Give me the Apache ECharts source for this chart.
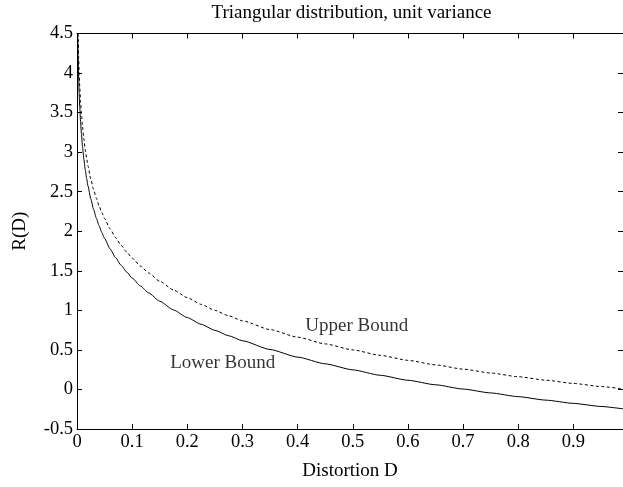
<!DOCTYPE html>
<html>
<head>
<meta charset="utf-8">
<script src="https://cdn.jsdelivr.net/npm/echarts@6/dist/echarts.min.js"></script>
<style>html,body{margin:0;padding:0;background:#fff;}#c{width:623px;height:487px;}</style>
</head>
<body>
<div id="c"></div>
<script>
// Distortion values (x)
const distortion = [0.001,0.0015,0.002,0.003,0.004,0.005,0.0065,0.008,0.01,0.0125,0.015,0.0175,0.02,0.025,0.03,0.035,0.04,0.045,0.05,0.06,0.07,0.08,0.09,0.1,0.115,0.13,0.15,0.175,0.2,0.225,0.25,0.275,0.3,0.35,0.4,0.45,0.5,0.55,0.6,0.65,0.7,0.75,0.8,0.85,0.9,0.95,0.99];
// Upper bound R(D) (dashed)
const upperBound = [4.983,4.690,4.483,4.190,3.983,3.822,3.632,3.483,3.322,3.161,3.029,2.918,2.822,2.661,2.529,2.418,2.322,2.237,2.161,2.029,1.918,1.822,1.737,1.661,1.560,1.472,1.368,1.257,1.161,1.076,1.000,0.931,0.868,0.757,0.661,0.576,0.500,0.431,0.368,0.311,0.257,0.208,0.161,0.117,0.076,0.037,0.007];
// Lower bound R(D) (solid)
const lowerBound = [4.731,4.438,4.231,3.938,3.731,3.570,3.380,3.231,3.070,2.909,2.777,2.666,2.570,2.409,2.277,2.166,2.070,1.985,1.909,1.777,1.666,1.570,1.485,1.409,1.308,1.220,1.116,1.005,0.909,0.824,0.748,0.679,0.616,0.505,0.409,0.324,0.248,0.179,0.116,0.059,0.005,-0.044,-0.091,-0.135,-0.176,-0.215,-0.245];
// Text annotations
const annotationText = ['Upper Bound','Lower Bound'];
const annotationD = [0.414, 0.169];
const annotationR = [0.808, 0.34];

const FONT = 'Liberation Serif';
const chart = echarts.init(document.getElementById('c'), null, {renderer:'canvas'});
const fmtX = v => (v > 0.95 ? '' : String(Math.round(v*10)/10));
const fmtY = v => String(v);
const axisCommon = {
  axisLine:{show:true, onZero:false, lineStyle:{color:'#000', width:1}},
  axisTick:{show:true, inside:true, length:5, lineStyle:{color:'#000', width:1}},
  splitLine:{show:false}
};
chart.setOption({
  animation:false,
  backgroundColor:'#fff',
  grid:{left:77, right:0, top:33.5, bottom:58, containLabel:false},
  graphic:[{type:'text', x:351.5, y:13.5, style:{text:'Triangular distribution, unit variance', font:'19px "'+FONT+'"', fill:'#000', textAlign:'center', textVerticalAlign:'middle'}}],
  xAxis:[
    Object.assign({type:'value', min:0, max:0.99, interval:0.1, position:'bottom',
      name:'Distortion D', nameLocation:'middle', nameGap:33,
      nameTextStyle:{fontFamily:FONT, fontSize:19, color:'#000'},
      axisLabel:{formatter:fmtX, fontFamily:FONT, fontSize:18.5, color:'#000', margin:4, showMaxLabel:false}}, axisCommon),
    Object.assign({type:'value', min:0, max:0.99, interval:0.1, position:'top', axisLabel:{show:false}}, axisCommon)
  ],
  yAxis:[
    Object.assign({type:'value', min:-0.5, max:4.5, interval:0.5, position:'left',
      name:'R(D)', nameLocation:'middle', nameGap:47, nameRotate:90,
      nameTextStyle:{fontFamily:FONT, fontSize:19, color:'#000'},
      axisLabel:{formatter:fmtY, fontFamily:FONT, fontSize:18.5, color:'#000', margin:4}}, axisCommon),
    Object.assign({type:'value', min:-0.5, max:4.5, interval:0.5, position:'right', axisLabel:{show:false}}, axisCommon)
  ],
  series:[
    {type:'line', name:'Upper Bound', data:distortion.map((d,i)=>[d, upperBound[i]]), showSymbol:false, smooth:0.2, smoothMonotone:'x', clip:true,
      lineStyle:{color:'#000', width:1, type:[3,2.5]}},
    {type:'line', name:'Lower Bound', data:distortion.map((d,i)=>[d, lowerBound[i]]), showSymbol:false, smooth:0.2, smoothMonotone:'x', clip:true,
      lineStyle:{color:'#000', width:1, type:'solid'}},
    {type:'scatter', data:annotationText.map((t,i)=>({value:[annotationD[i], annotationR[i]], name:t})), symbolSize:0, silent:true,
      label:{show:true, position:'inside', align:'left', verticalAlign:'middle', formatter:p=>p.name, fontFamily:FONT, fontSize:19, color:'#000'}}
  ]
});
</script>
</body>
</html>
